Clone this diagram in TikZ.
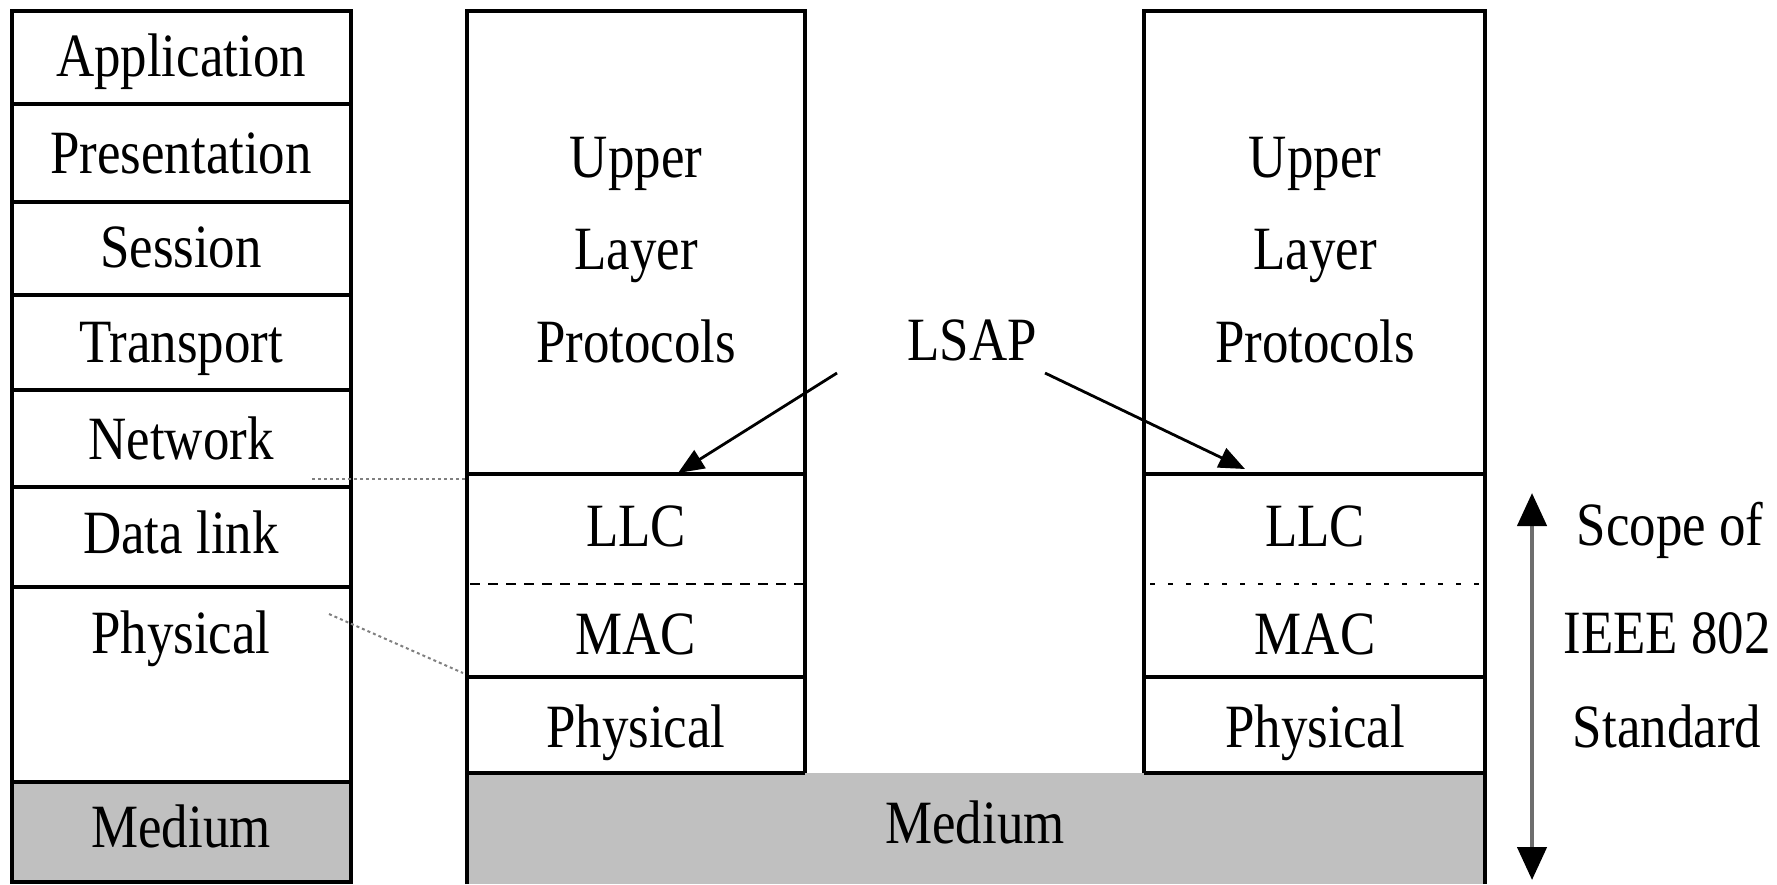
\documentclass[tikz,border=0pt]{standalone}
\usepackage{fontspec}
\setmainfont{Liberation Serif}[FakeStretch=0.86]
\usetikzlibrary{arrows.meta}
\definecolor{medgray}{RGB}{192,192,192}
\definecolor{dotgray}{RGB}{128,128,128}
\definecolor{shaftgray}{RGB}{110,110,110}
\begin{document}
\begin{tikzpicture}[x=0.01cm,y=-0.01cm,
  box/.style={draw=black,line width=0.037cm},
  lbl/.style={anchor=base,inner sep=0pt,font=\fontsize{17.5}{21}\selectfont},
  guide/.style={draw=dotgray,line width=0.02cm,dash pattern=on 0.03cm off 0.03cm},
  llcdash/.style={draw=black,line width=0.028cm,dash pattern=on 0.1cm off 0.08cm},
  llcdot/.style={draw=black,line width=0.028cm,dash pattern=on 0.05cm off 0.13cm},
  conn/.style={draw=black,line width=0.028cm,-{Triangle[length=0.26cm,width=0.21cm]}},
  scopearrow/.style={draw=shaftgray,line width=0.045cm,
    {Triangle[length=0.33cm,width=0.29cm,color=black]}-{Triangle[length=0.33cm,width=0.29cm,color=black]}}]
\useasboundingbox (0,0) rectangle (1777,884);

% ---------- OSI column ----------
\filldraw[box,fill=medgray] (12,782) rectangle (351,882);
\draw[box] (12,11) rectangle (351,782);
\foreach \yy in {104,202,295,390,487,587} \draw[box] (12,\yy) -- (351,\yy);
\node[lbl] (app)  at (181,76)  {Application};
\node[lbl] (pres) at (181,173) {Presentation};
\node[lbl] (sess) at (181,267) {Session};
\node[lbl] (trans) at (181,362) {Transport};
\node[lbl] (net)  at (181,459) {Network};
\node[lbl] (dl)   at (181,553) {Data link};
\node[lbl] (phyO) at (181,653) {Physical};
\node[lbl] (medO) at (181,847) {Medium};

% ---------- shared medium ----------
\fill[medgray] (467,773) rectangle (1485,884);

% ---------- middle stack ----------
\draw[box] (467,884) -- (467,11) -- (805,11) -- (805,773);
\foreach \yy in {474,677,773} \draw[box] (467,\yy) -- (805,\yy);
\draw[llcdash] (470,584) -- (803,584);
\node[lbl,align=center,anchor=center,font=\fontsize{17.5}{26.4}\selectfont] (ulpA) at (636,250) {Upper\\Layer\\Protocols};
\node[lbl] (llcA) at (636,546) {LLC};
\node[lbl] (macA) at (636,654) {MAC};
\node[lbl] (phyA) at (636,747) {Physical};

% ---------- right stack ----------
\draw[box] (1144,773) -- (1144,11) -- (1485,11) -- (1485,884);
\foreach \yy in {474,677,773} \draw[box] (1144,\yy) -- (1485,\yy);
\draw[llcdot] (1150,584) -- (1483,584);
\node[lbl,align=center,anchor=center,font=\fontsize{17.5}{26.4}\selectfont] (ulpB) at (1315,250) {Upper\\Layer\\Protocols};
\node[lbl] (llcB) at (1315,546) {LLC};
\node[lbl] (macB) at (1315,654) {MAC};
\node[lbl] (phyB) at (1315,747) {Physical};

\node[lbl] (medium) at (975,843) {Medium};

% ---------- LSAP ----------
\node[lbl] (lsap) at (972,360) {LSAP};
\coordinate (lsapL) at (837,373);
\coordinate (lsapR) at (1045,373);
\coordinate (llcTopA) at (678,473);
\coordinate (llcTopB) at (1245,469);
\draw[conn] (lsapL) -- (llcTopA);
\draw[conn] (lsapR) -- (llcTopB);

% ---------- dotted guides ----------
\coordinate (g1a) at (312,479);
\coordinate (g1b) at (465,479);
\coordinate (g2a) at (329,614);
\coordinate (g2b) at (463,673);
\draw[guide] (g1a) -- (g1b);
\draw[guide] (g2a) -- (g2b);

% ---------- scope ----------
\coordinate (scT) at (1532,493);
\coordinate (scB) at (1532,880);
\draw[scopearrow] (scT) -- (scB);
\node[lbl] (sc1) at (1670,545) {Scope of};
\node[lbl] (sc2) at (1667,653) {IEEE 802};
\node[lbl] (sc3) at (1667,747) {Standard};
\end{tikzpicture}
\end{document}
